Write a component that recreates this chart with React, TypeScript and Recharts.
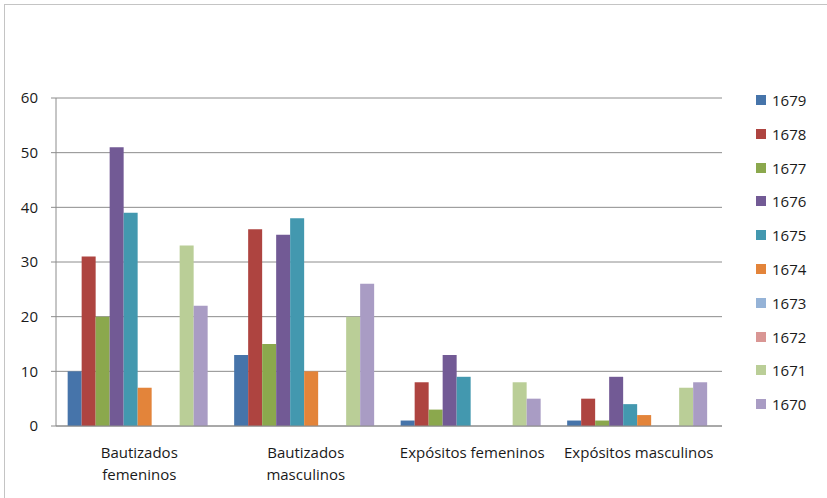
import { BarChart, Bar, XAxis, YAxis, CartesianGrid } from "recharts";

const categories = [
  "Bautizados\nfemeninos",
  "Bautizados\nmasculinos",
  "Expósitos femeninos",
  "Expósitos masculinos",
];

const years = ["1679", "1678", "1677", "1676", "1675", "1674", "1673", "1672", "1671", "1670"];

// values per year, in category order
const v1679 = [10, 13, 1, 1];
const v1678 = [31, 36, 8, 5];
const v1677 = [20, 15, 3, 1];
const v1676 = [51, 35, 13, 9];
const v1675 = [39, 38, 9, 4];
const v1674 = [7, 10, 0, 2];
const v1673 = [0, 0, 0, 0];
const v1672 = [0, 0, 0, 0];
const v1671 = [33, 20, 8, 7];
const v1670 = [22, 26, 5, 8];

const yTicks = [0, 10, 20, 30, 40, 50, 60];

const colors = [
  "#4674AA",
  "#AE4440",
  "#8BA84D",
  "#725A95",
  "#4398AF",
  "#E3843A",
  "#95B3D7",
  "#D99694",
  "#BACE97",
  "#A99CC4",
];

const seriesValues = [v1679, v1678, v1677, v1676, v1675, v1674, v1673, v1672, v1671, v1670];

const data = categories.map((name, i) => {
  const row: Record<string, string | number> = { name, edge: i };
  years.forEach((y, k) => {
    row[y] = seriesValues[k][i];
  });
  return row;
});

const FONT = "'Open Sans', sans-serif";

const CategoryTick = ({ x, y, payload }: any) => {
  const lines = String(payload.value).split("\n");
  return (
    <text x={x} y={y} textAnchor="middle" fontFamily={FONT} fontSize={15} fill="#1a1a1a">
      {lines.map((l, i) => (
        <tspan key={i} x={x} dy={i === 0 ? 18 : 22}>
          {l}
        </tspan>
      ))}
    </text>
  );
};

export default function App() {
  return (
    <div style={{ position: "absolute", left: 0, top: 0, width: 827, height: 498, background: "#fff", overflow: "hidden" }}>
      <div
        style={{
          position: "absolute",
          left: 4,
          top: 4,
          width: 840,
          height: 520,
          border: "1px solid #c4c4c4",
          boxSizing: "border-box",
        }}
      />
      <BarChart
        width={827}
        height={498}
        data={data}
        margin={{ top: 98, right: 105, bottom: 0, left: 0 }}
        barCategoryGap="7%"
        barGap={0}
        style={{ position: "absolute", left: 0, top: 0 }}
      >
        <CartesianGrid vertical={false} stroke="#8c8c8c" />
        {/* boundary tick marks between categories, like Excel */}
        <XAxis
          xAxisId="edge"
          type="number"
          dataKey="edge"
          domain={[0, 4]}
          ticks={[0, 1, 2, 3, 4]}
          tick={false}
          tickSize={5}
          tickLine={{ stroke: "#8c8c8c" }}
          axisLine={false}
          height={0}
        />
        <XAxis
          xAxisId="cat"
          dataKey="name"
          height={72}
          tickLine={false}
          axisLine={{ stroke: "#8c8c8c" }}
          tick={<CategoryTick />}
          tickMargin={8}
          interval={0}
        />
        <YAxis
          width={56}
          domain={[0, 60]}
          ticks={yTicks}
          interval={0}
          tickSize={5}
          tickMargin={13}
          tickLine={{ stroke: "#8c8c8c" }}
          axisLine={{ stroke: "#8c8c8c" }}
          tick={{ fill: "#1a1a1a", fontSize: 15, fontFamily: FONT }}
        />
        {years.map((y, k) => (
          <Bar key={y} xAxisId="cat" dataKey={y} fill={colors[k]} isAnimationActive={false} />
        ))}
      </BarChart>
      <div style={{ position: "absolute", left: 756, top: 89, fontFamily: FONT, fontSize: 15, color: "#1a1a1a" }}>
        {years.map((y, k) => (
          <div key={y} style={{ height: 33.8, display: "flex", alignItems: "flex-start" }}>
            <span style={{ display: "inline-block", width: 10, height: 10, background: colors[k], marginTop: 6, marginRight: 6 }} />
            <span style={{ lineHeight: "22px" }}>{y}</span>
          </div>
        ))}
      </div>
    </div>
  );
}
